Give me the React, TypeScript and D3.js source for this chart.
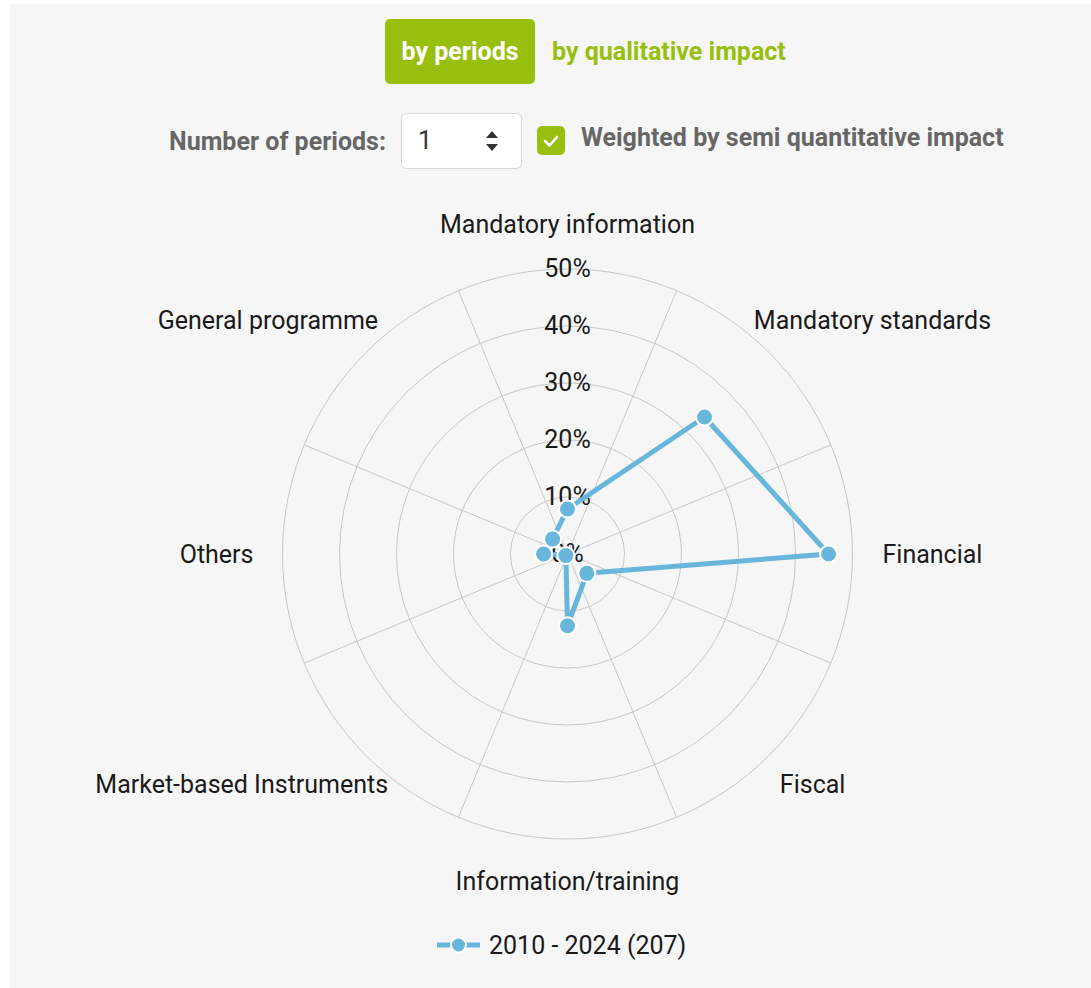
import React from "react";
import * as d3 from "d3";

const categories = [
  "Mandatory information",
  "Mandatory standards",
  "Financial",
  "Fiscal",
  "Information/training",
  "Market-based Instruments",
  "Others",
  "General programme",
];
const seriesName = "2010 - 2024 (207)";
const seriesValues = [7.9, 34.0, 45.8, 4.8, 12.6, 0.4, 4.2, 3.7];
const radialTicks = [0, 10, 20, 30, 40, 50];

const W = 1091;
const H = 988;
const CX = 567.5;
const CY = 554;
const R = 285;
const GREEN = "#98bf0e";
const BLUE = "#68b6dc";
const FONT = "Roboto, 'Noto Sans', sans-serif";
const FS = 25;

// label nudges (layout only)
const labelNudge = [0, -47, -15, -21, 0, 54, 16, 44];

export default function App() {
  const r = d3.scaleLinear().domain([0, 50]).range([0, R]);
  const n = categories.length;
  const angle = (i: number) => (i * 2 * Math.PI) / n;
  const polar = (a: number, rad: number): [number, number] => [
    CX + rad * Math.sin(a),
    CY - rad * Math.cos(a),
  ];

  const line = d3
    .lineRadial<number>()
    .angle((_, i) => angle(i))
    .radius((d) => r(d))
    .curve(d3.curveLinearClosed);

  return (
    <svg
      width={W}
      height={H}
      style={{ position: "absolute", left: 0, top: 0, fontFamily: FONT }}
    >
      <rect x={0} y={0} width={W} height={H} fill="#ffffff" />
      <rect x={10} y={4} width={W - 10} height={H - 4} fill="#f6f6f6" />

      {/* top controls */}
      <rect x={385} y={19} width={150} height={65} rx={5} fill={GREEN} />
      <text x={460} y={51} dy="0.35em" textAnchor="middle" fill="#fff" fontSize={FS} fontWeight={700}>
        by periods
      </text>
      <text x={552} y={51} dy="0.35em" fill={GREEN} fontSize={FS} fontWeight={700}>
        by qualitative impact
      </text>

      <text x={386} y={141} dy="0.35em" textAnchor="end" fill="#666" fontSize={FS} fontWeight={700}>
        Number of periods:
      </text>
      <rect x={401.5} y={113.5} width={120} height={55} rx={5} fill="#fff" stroke="#d6d6d6" />
      <text x={418} y={140} dy="0.35em" fill="#333" fontSize={FS}>
        1
      </text>
      <path d="M486,138 L492,131 L498,138 Z" fill="#333" />
      <path d="M486,144 L492,151 L498,144 Z" fill="#333" />

      <rect x={537} y={126} width={28} height={29} rx={5} fill={GREEN} />
      <path d="M545,141 L549.5,145.5 L557,137" fill="none" stroke="#fff" strokeWidth={2.6} strokeLinecap="round" strokeLinejoin="round" />
      <text x={581} y={137} dy="0.35em" fill="#666" fontSize={FS} fontWeight={700}>
        Weighted by semi quantitative impact
      </text>

      {/* grid */}
      <g>
        {radialTicks.filter((t) => t > 0).map((t) => (
          <circle key={t} cx={CX} cy={CY} r={r(t)} fill="none" stroke="#c8c8c8" strokeWidth={1} />
        ))}
        {categories.map((_, i) => {
          const [x, y] = polar(angle(i) + Math.PI / n, R);
          return <line key={i} x1={CX} y1={CY} x2={x} y2={y} stroke="#c8c8c8" strokeWidth={1} />;
        })}
      </g>

      {/* radial tick labels */}
      {radialTicks.map((t) => (
        <text key={t} x={CX} y={CY - r(t) - 1} dy="0.35em" textAnchor="middle" fill="#1a1a1a" fontSize={FS}>
          {t}%
        </text>
      ))}

      {/* category labels */}
      {categories.map((c, i) => {
        const a = angle(i);
        const [x, y] = polar(a, 330);
        const s = Math.sin(a);
        const co = Math.cos(a);
        const anchor = Math.abs(s) < 0.01 ? "middle" : s > 0 ? "start" : "end";
        const yAdj = co < -0.01 ? -3 : 0;
        return (
          <text key={c} x={x + labelNudge[i]} y={y + yAdj} dy="0.35em" textAnchor={anchor} fill="#1a1a1a" fontSize={FS}>
            {c}
          </text>
        );
      })}

      {/* series */}
      <g transform={`translate(${CX},${CY})`}>
        <path d={line(seriesValues) || ""} fill="none" stroke={BLUE} strokeWidth={5} strokeLinejoin="round" />
      </g>
      {seriesValues.map((v, i) => {
        const [x, y] = polar(angle(i), r(v));
        return <circle key={i} cx={x} cy={y} r={8.5} fill={BLUE} stroke="#fff" strokeWidth={2} />;
      })}

      {/* legend */}
      <line x1={437} y1={945} x2={480} y2={945} stroke={BLUE} strokeWidth={5} />
      <circle cx={458.5} cy={945} r={7.5} fill={BLUE} stroke="#fff" strokeWidth={2} />
      <text x={489} y={945} dy="0.35em" fill="#1a1a1a" fontSize={FS}>
        {seriesName}
      </text>
    </svg>
  );
}
